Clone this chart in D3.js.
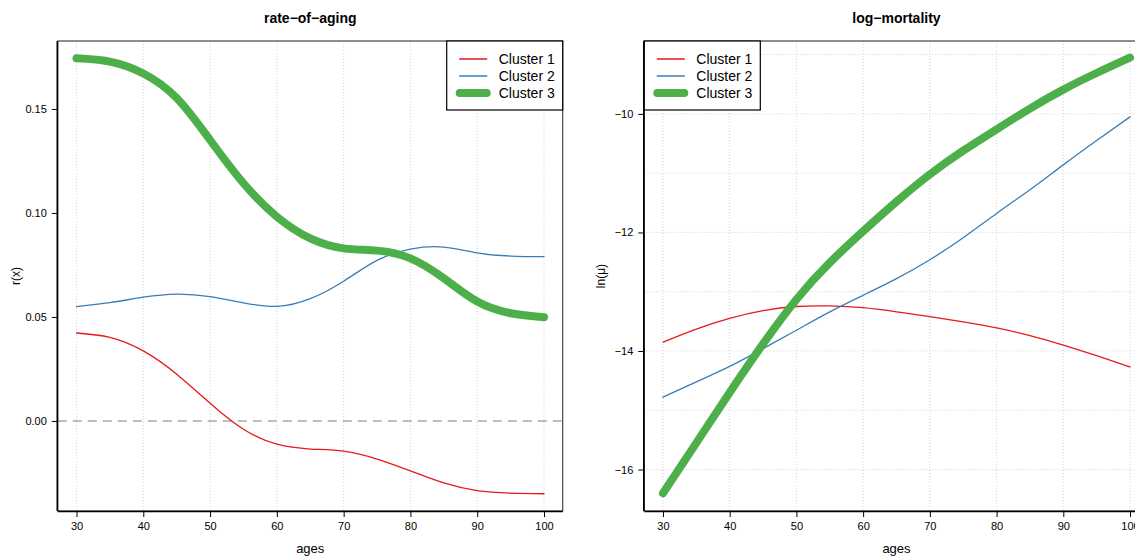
<!DOCTYPE html>
<html><head><meta charset="utf-8">
<script src="https://cdn.jsdelivr.net/npm/d3@7/dist/d3.min.js"></script>
<style>
body{margin:0;background:#fff}
svg{display:block}
text{font-family:"Liberation Sans",Arial,Helvetica,sans-serif;fill:#000}
</style></head>
<body><svg id="c" width="1135" height="557"></svg>
<script>
// ---- data ----
const ages = [30,35,40,45,50,55,60,65,70,75,80,85,90,95,100];
const seriesNames = ["Cluster 1","Cluster 2","Cluster 3"];
const seriesColors = ["#E41A1C","#377EB8","#4DAF4A"];
const seriesWidths = [1.3,1.3,8];

// rate-of-aging r(x)
const rate1 = [0.0423,0.0402,0.0337,0.0225,0.0085,-0.0040,-0.0112,-0.0135,-0.0145,-0.0183,-0.0240,-0.0298,-0.0335,-0.0347,-0.0350];
const rate2 = [0.0550,0.0569,0.0595,0.0610,0.0598,0.0568,0.0551,0.0588,0.0672,0.0772,0.0826,0.0836,0.0808,0.0793,0.0790];
const rate3 = [0.1744,0.1728,0.1671,0.1553,0.1351,0.1143,0.0982,0.0878,0.0830,0.0819,0.0782,0.0686,0.0574,0.0518,0.0499];

// log-mortality ln(mu)
const logm1 = [-13.85,-13.63,-13.45,-13.32,-13.25,-13.24,-13.27,-13.34,-13.42,-13.51,-13.61,-13.74,-13.90,-14.08,-14.27];
const logm2 = [-14.78,-14.52,-14.26,-13.96,-13.65,-13.34,-13.06,-12.78,-12.46,-12.09,-11.68,-11.28,-10.86,-10.45,-10.05];
const logm3 = [-16.40,-15.55,-14.70,-13.88,-13.13,-12.51,-11.98,-11.48,-11.02,-10.62,-10.26,-9.91,-9.59,-9.31,-9.05];

const xTicks = [30,40,50,60,70,80,90,100];
const rateTicks = [0.00,0.05,0.10,0.15];
const logmTicks = [-16,-14,-12,-10];
const logmGrid = [-16,-15,-14,-13,-12,-11,-10,-9];

const svg = d3.select("#c");

function panel(opt){
  const {x0,x1,y0,y1,xDomain,yDomain,series,title,ylab,yTicks,yFmt,hGrid,zeroLine,legendSide,yLabX} = opt;
  const x = d3.scaleLinear().domain(xDomain).range([x0,x1]);
  const y = d3.scaleLinear().domain(yDomain).range([y1,y0]);
  const g = svg.append("g");
  // grid
  g.selectAll(".vg").data(xTicks).enter().append("line")
    .attr("x1",d=>x(d)).attr("x2",d=>x(d)).attr("y1",y0).attr("y2",y1)
    .attr("stroke","#d3d3d3").attr("stroke-width",1).attr("stroke-dasharray","1,2");
  if(hGrid){
    g.selectAll(".hg").data(hGrid).enter().append("line")
      .attr("x1",x0).attr("x2",x1).attr("y1",d=>y(d)).attr("y2",d=>y(d))
      .attr("stroke","#d3d3d3").attr("stroke-width",1).attr("stroke-dasharray","1,2");
  }
  if(zeroLine){
    g.append("line").attr("x1",x0).attr("x2",x1).attr("y1",y(0)).attr("y2",y(0))
      .attr("stroke","#bebebe").attr("stroke-width",2).attr("stroke-dasharray","9,6");
  }
  // lines
  const line = d3.line().x((d,i)=>x(ages[i])).y(d=>y(d)).curve(d3.curveNatural);
  series.forEach((s,i)=>{
    g.append("path").attr("d",line(s)).attr("fill","none")
      .attr("stroke",seriesColors[i]).attr("stroke-width",seriesWidths[i])
      .attr("stroke-linecap","round").attr("stroke-linejoin","round");
  });
  // box
  g.append("rect").attr("x",x0).attr("y",y0).attr("width",x1-x0).attr("height",y1-y0)
    .attr("fill","none").attr("stroke","#444").attr("stroke-width",1.2);
  // axes
  const xa = g.append("g").attr("transform",`translate(0,${y1})`)
    .call(d3.axisBottom(x).tickValues(xTicks).tickSize(6).tickPadding(5).tickFormat(d3.format("d")));
  xa.select(".domain").attr("d",`M${x0},0.5H${x1}`).attr("stroke","#000").attr("stroke-width",1.6);
  xa.selectAll("text").attr("font-size",11).attr("fill","#222").attr("font-family","Liberation Sans, Arial, sans-serif");
  const ya = g.append("g").attr("transform",`translate(${x0},0)`)
    .call(d3.axisLeft(y).tickValues(yTicks).tickSize(6).tickPadding(5).tickFormat(yFmt));
  ya.select(".domain").attr("d",`M-0.5,${y0}V${y1}`).attr("stroke","#000").attr("stroke-width",1.6);
  ya.selectAll("text").attr("font-size",11).attr("fill","#222").attr("font-family","Liberation Sans, Arial, sans-serif");
  // titles
  svg.append("text").attr("x",(x0+x1)/2).attr("y",23).attr("text-anchor","middle")
    .attr("font-weight","bold").attr("font-size",14).text(title);
  svg.append("text").attr("x",(x0+x1)/2).attr("y",553).attr("text-anchor","middle")
    .attr("font-size",13).text("ages");
  svg.append("text").attr("transform",`translate(${yLabX},${(y0+y1)/2}) rotate(-90)`)
    .attr("text-anchor","middle").attr("font-size",12).text(ylab);
  // legend
  const lw = 116, lh = 69;
  const lx = legendSide==="right" ? x1-lw : x0;
  const lg = svg.append("g").attr("transform",`translate(${lx},${y0})`);
  lg.append("rect").attr("x",0).attr("y",0).attr("width",lw).attr("height",lh)
    .attr("fill","#fff").attr("stroke","#000").attr("stroke-width",1.2);
  seriesNames.forEach((n,i)=>{
    const yy = 18 + i*17;
    lg.append("line").attr("x1",13).attr("x2",40).attr("y1",yy).attr("y2",yy)
      .attr("stroke",seriesColors[i]).attr("stroke-width",seriesWidths[i]).attr("stroke-linecap","round");
    lg.append("text").attr("x",52).attr("y",yy+5).attr("font-size",14).text(n);
  });
}

panel({x0:57.8,x1:562.7,y0:41,y1:511,xDomain:[27.2,102.8],yDomain:[-0.0433,0.1827],
  series:[rate1,rate2,rate3],title:"rate\u2212of\u2212aging",ylab:"r(x)",yTicks:rateTicks,
  yFmt:d3.format(".2f"),hGrid:null,zeroLine:true,legendSide:"right",yLabX:20});

panel({x0:644.3,x1:1148.7,y0:41,y1:511,xDomain:[27.2,102.8],yDomain:[-16.70,-8.77],
  series:[logm1,logm2,logm3],title:"log\u2212mortality",ylab:"ln(\u03bc)",yTicks:logmTicks,
  yFmt:d=>String(d).replace("-","\u2212"),hGrid:logmGrid,zeroLine:false,legendSide:"left",yLabX:605});
</script>
</body></html>
